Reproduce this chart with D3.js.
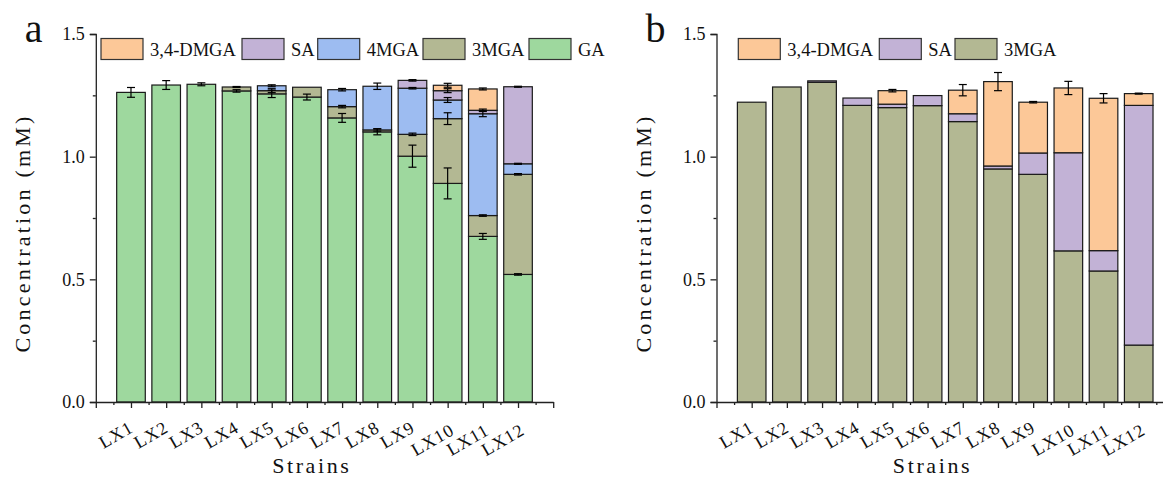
<!DOCTYPE html>
<html>
<head>
<meta charset="utf-8">
<script src="https://cdn.jsdelivr.net/npm/d3@7"></script>
<style>
  body { margin: 0; background: #fff; }
  .axis path, .axis line { stroke: #222; stroke-width: 1.3; }
</style>
</head>
<body>
<div id="chart"></div>
<script>
// strain names shared by both panels
const strains = ["LX1", "LX2", "LX3", "LX4", "LX5", "LX6", "LX7", "LX8", "LX9", "LX10", "LX11", "LX12"];
const yTicks = [0, 0.5, 1.0, 1.5];

// panel a: segment amounts (mM), stacked from GA upward
const gaA   = [1.262, 1.292, 1.295, 1.268, 1.256, 1.243, 1.158, 1.101, 1.002, 0.891, 0.675, 0.520];
const mga3A = [0, 0, 0, 0.016, 0.013, 0.040, 0.046, 0.008, 0.089, 0.264, 0.085, 0.408];
const mga4A = [0, 0, 0, 0, 0.020, 0, 0.069, 0.178, 0.188, 0.076, 0.415, 0.043];
const saA   = [0, 0, 0, 0, 0, 0, 0, 0, 0.032, 0.038, 0.014, 0.314];
const dmgaA = [0, 0, 0, 0, 0, 0, 0, 0, 0, 0.022, 0.087, 0];
// panel a: error bars (sd) at the top of each segment
const gaErrA   = [0.020, 0.018, 0.006, 0.005, 0.015, 0.012, 0.018, 0.012, 0.045, 0.063, 0.012, 0.003];
const mga3ErrA = [0, 0, 0, 0.002, 0.008, 0, 0.005, 0.005, 0.005, 0.024, 0.003, 0.003];
const mga4ErrA = [0, 0, 0, 0, 0.004, 0, 0.005, 0.013, 0.003, 0.010, 0.012, 0.002];
const saErrA   = [0, 0, 0, 0, 0, 0, 0, 0, 0.003, 0.008, 0.005, 0.002];
const dmgaErrA = [0, 0, 0, 0, 0, 0, 0, 0, 0, 0.008, 0.004, 0];

// panel b
const mga3B = [1.222, 1.284, 1.303, 1.209, 1.200, 1.208, 1.143, 0.950, 0.928, 0.616, 0.534, 0.232];
const saB   = [0, 0, 0.006, 0.030, 0.014, 0.041, 0.032, 0.012, 0.087, 0.400, 0.083, 0.977];
const dmgaB = [0, 0, 0, 0, 0.055, 0, 0.096, 0.344, 0.207, 0.264, 0.621, 0.048];
const dmgaErrB = [0, 0, 0, 0, 0.005, 0, 0.023, 0.037, 0.003, 0.027, 0.019, 0.002];

const colors = {
  "3,4-DMGA": "#fcc898",
  "SA": "#c2b2d6",
  "4MGA": "#9dbcf1",
  "3MGA": "#b3b893",
  "GA": "#9ed89e"
};

const FONT = "\"Liberation Serif\"";
const W = 1163, H = 484;
const svg = d3.select("#chart").append("svg").attr("width", W).attr("height", H);

function label(sel, size) {
  return sel.style("font-family", FONT).style("font-size", size + "px").attr("fill", "#111");
}

function drawPanel(p) {
  const g = svg.append("g");
  const x = d3.scaleLinear().domain([0, 13]).range([p.x0, p.x0 + 457.4]);
  const y = d3.scaleLinear().domain([0, 1.5]).range([402, 34]);
  const bw = 28.6;

  const rows = strains.map((s, i) => {
    const r = { strain: s, idx: i + 1 };
    p.series.forEach(se => { r[se.key] = se.values[i]; r[se.key + "_err"] = se.err ? se.err[i] : 0; });
    return r;
  });
  const keys = p.series.map(se => se.key);
  const stacked = d3.stack().keys(keys)(rows);

  // bars
  g.selectAll(".layer").data(stacked).enter().append("g")
    .attr("fill", d => colors[d.key])
    .selectAll("rect").data(d => d.filter(v => v[1] - v[0] > 0))
    .enter().append("rect")
    .attr("x", d => x(d.data.idx) - bw / 2)
    .attr("width", bw)
    .attr("y", d => y(d[1]))
    .attr("height", d => y(d[0]) - y(d[1]))
    .attr("stroke", "#1a1a1a")
    .attr("stroke-width", 1.2);

  // error bars
  stacked.forEach(layer => {
    layer.forEach(d => {
      const e = d.data[layer.key + "_err"];
      if (!e || d[1] - d[0] <= 0) return;
      const cx = x(d.data.idx), top = y(d[1] + e), bot = y(d[1] - e);
      g.append("line").attr("x1", cx).attr("x2", cx).attr("y1", top).attr("y2", bot)
        .attr("stroke", "#000").attr("stroke-width", 1.2);
      [top, bot].forEach(yy => g.append("line").attr("x1", cx - 4).attr("x2", cx + 4)
        .attr("y1", yy).attr("y2", yy).attr("stroke", "#000").attr("stroke-width", 1.2));
    });
  });

  // y axis
  g.append("g").attr("class", "axis").attr("transform", `translate(${p.x0},0)`)
    .call(d3.axisLeft(y).tickValues(yTicks).tickFormat(d3.format(".1f")).tickSize(6).tickPadding(5))
    .call(a => a.attr("font-family", null))
    .call(a => label(a.selectAll("text"), 18));
  g.append("g").attr("class", "axis").attr("transform", `translate(${p.x0},0)`)
    .call(d3.axisLeft(y).tickValues([0.25, 0.75, 1.25]).tickFormat("").tickSize(3))
    .call(a => a.select(".domain").remove());

  // x axis
  g.append("g").attr("class", "axis").attr("transform", "translate(0,402)")
    .call(d3.axisBottom(x).tickValues(d3.range(0, 14)).tickFormat("").tickSizeInner(6).tickSizeOuter(0));
  g.append("g").attr("class", "axis").attr("transform", "translate(0,402)")
    .call(d3.axisBottom(x).tickValues(d3.range(0.5, 13, 1)).tickFormat("").tickSize(3))
    .call(a => a.select(".domain").remove());

  // rotated strain labels
  label(g.selectAll(".xl").data(rows).enter().append("text"), 18)
    .attr("class", "xl")
    .attr("text-anchor", "middle")
    .style("letter-spacing", "1px")
    .attr("transform", d => `translate(${x(d.idx) - 12},${d.strain.length > 3 ? 445 : 440}) rotate(-30)`)
    .text(d => d.strain);

  // axis titles
  label(g.append("text"), 22).attr("text-anchor", "middle")
    .attr("transform", `translate(${p.x0 + 216},473)`)
    .style("letter-spacing", "2.6px")
    .text("Strains");
  label(g.append("text"), 22).attr("text-anchor", "middle")
    .attr("transform", `translate(${p.x0 - 66},233) rotate(-90)`)
    .style("letter-spacing", "3.2px")
    .text("Concentration (mM)");

  // panel letter
  label(g.append("text"), 40).attr("x", p.x0 - 71).attr("y", 42).text(p.letter);

  // legend (top-most series first)
  const leg = p.series.slice().reverse();
  leg.forEach((se, i) => {
    const lx = p.legendX[i];
    g.append("rect").attr("x", lx).attr("y", 38.5).attr("width", 42).attr("height", 21)
      .attr("fill", colors[se.key]).attr("stroke", "#333").attr("stroke-width", 1.2);
    label(g.append("text"), 18.5).attr("x", lx + 49).attr("y", 55.5).text(se.key);
  });
}

drawPanel({
  letter: "a",
  x0: 95.8,
  legendX: [101, 242, 317.7, 423, 529],
  series: [
    { key: "GA", values: gaA, err: gaErrA },
    { key: "3MGA", values: mga3A, err: mga3ErrA },
    { key: "4MGA", values: mga4A, err: mga4ErrA },
    { key: "SA", values: saA, err: saErrA },
    { key: "3,4-DMGA", values: dmgaA, err: dmgaErrA }
  ]
});

drawPanel({
  letter: "b",
  x0: 716.5,
  legendX: [738.3, 879.3, 955],
  series: [
    { key: "3MGA", values: mga3B },
    { key: "SA", values: saB },
    { key: "3,4-DMGA", values: dmgaB, err: dmgaErrB }
  ]
});
</script>
</body>
</html>
